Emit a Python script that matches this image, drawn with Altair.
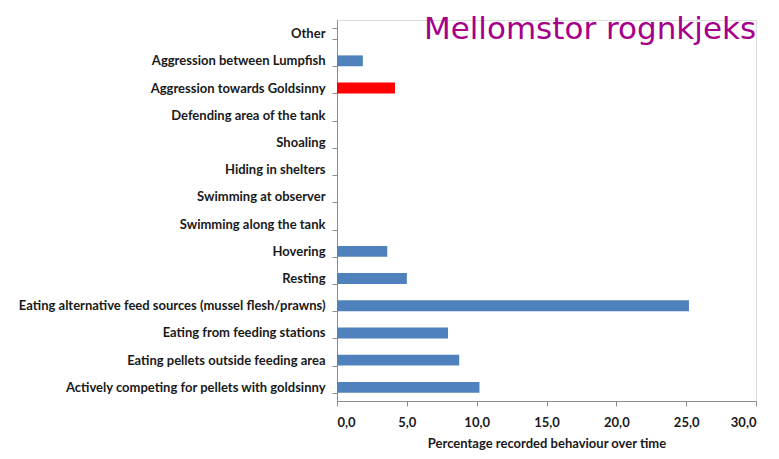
import altair as alt
import pandas as pd

categories = [
    "Other",
    "Aggression between Lumpfish",
    "Aggression towards Goldsinny",
    "Defending area of the tank",
    "Shoaling",
    "Hiding in shelters",
    "Swimming at observer",
    "Swimming along the tank",
    "Hovering",
    "Resting",
    "Eating alternative feed sources (mussel flesh/prawns)",
    "Eating from feeding stations",
    "Eating pellets outside feeding area",
    "Actively competing for pellets with goldsinny",
]
values = [0.0, 1.85, 4.15, 0.0, 0.0, 0.0, 0.0, 0.0, 3.6, 5.0, 25.2, 7.95, 8.75, 10.2]
highlight = [False, False, True, False, False, False, False, False, False, False, False, False, False, False]

df = pd.DataFrame({"behaviour": categories, "value": values, "hl": highlight})

font = "Lato"

bars = alt.Chart(df).mark_bar().encode(
    y=alt.Y("behaviour:N", sort=categories,
            scale=alt.Scale(paddingInner=0.6, paddingOuter=0.3),
            axis=alt.Axis(title=None, tickBand="extent", labelFont=font, labelFontSize=13,
                          labelFontWeight="bold", labelColor="#1a1a1a", labelPadding=7,
                          tickSize=5, tickColor="#8c8c8c", domainColor="#8c8c8c",
                          labelLimit=400)),
    x=alt.X("value:Q", scale=alt.Scale(domain=[0, 30]),
            axis=alt.Axis(title="Percentage recorded behaviour over time", values=[0, 5, 10, 15, 20, 25, 30],
                          labelExpr="replace(format(datum.value, '.1f'), '.', ',')",
                          labelFont=font, labelFontSize=13, labelFontWeight="bold", labelColor="#1a1a1a",
                          titleFont=font, titleFontSize=13, titleFontWeight="bold", titleColor="#1a1a1a",
                          titlePadding=8, labelPadding=10, tickSize=5, tickColor="#8c8c8c",
                          domainColor="#8c8c8c", grid=False)),
    color=alt.Color("hl:N", scale=alt.Scale(domain=[False, True], range=["#4F81BD", "#FF0000"]), legend=None),
)

title = alt.Chart(pd.DataFrame({"t": ["Mellomstor rognkjeks"]})).mark_text(
    font="Comic Sans MS, DejaVu Sans", fontSize=31, color="#A6008A", align="center", baseline="alphabetic"
).encode(x=alt.value(253), y=alt.value(19), text="t:N")

chart = alt.layer(bars, title).properties(
    width=419, height=381,
    autosize=alt.AutoSizeParams(type="none"),
    padding={"left": 329, "top": 12, "right": 15, "bottom": 50},
).configure_view(stroke=None).configure(background="white")

chart.save("out.html", embed_options={"renderer": "svg", "actions": False})
